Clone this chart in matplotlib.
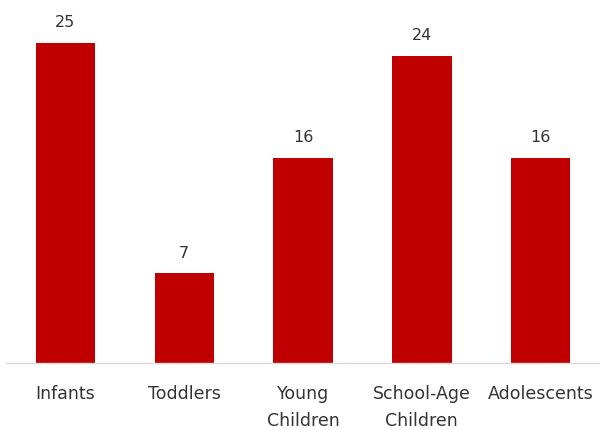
import matplotlib
matplotlib.use("Agg")
import matplotlib.pyplot as plt

categories = ["Infants", "Toddlers", "Young\nChildren", "School-Age\nChildren", "Adolescents"]
values = [25, 7, 16, 24, 16]

bar_color = "#C00000"
text_color = "#333333"

plt.rcParams["font.family"] = ["DejaVu Sans"]

fig = plt.figure(figsize=(6.0, 4.31), dpi=100)
ax = fig.add_axes([0.01, 1 - 364 / 431, 0.99, 364 / 431])

x = range(len(categories))
bars = ax.bar(x, values, width=0.5, color=bar_color, zorder=2)

for rect, v in zip(bars, values):
    ax.annotate(str(v), (rect.get_x() + rect.get_width() / 2, v),
                xytext=(0, 10), textcoords="offset points",
                ha="center", va="bottom", fontsize=11.5, color=text_color)

ax.set_xlim(-0.5, len(categories) - 0.5)
ax.set_ylim(0, 25 * 364 / 320)
ax.set_xticks(list(x))
ax.set_xticklabels(categories, fontsize=12.5, color=text_color, linespacing=1.65)
ax.tick_params(axis="x", length=0, pad=15)
ax.set_yticks([])

for side in ("top", "right", "left"):
    ax.spines[side].set_visible(False)
ax.spines["bottom"].set_color("#D9D9D9")
ax.spines["bottom"].set_linewidth(1.0)

fig.savefig("out.png", dpi=100)
